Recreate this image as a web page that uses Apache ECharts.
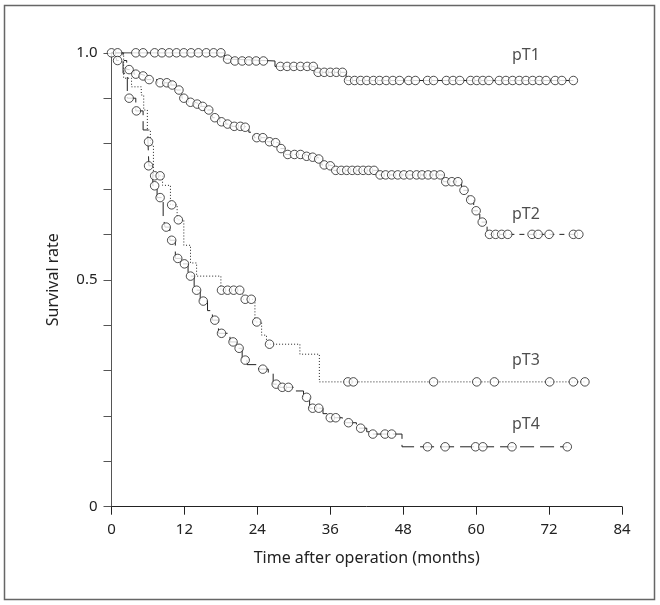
<!DOCTYPE html>
<html><head><meta charset="utf-8">
<script src="https://cdn.jsdelivr.net/npm/echarts@6/dist/echarts.min.js"></script>
<style>html,body{margin:0;padding:0;background:#fff}#c{width:660px;height:605px}</style>
</head><body><div id="c"></div>
<script>
// ---- data (months, survival rate) ----
const xTicks = [0, 12, 24, 36, 48, 60, 72, 84];
const yTickLabels = {"0": "0", "0.5": "0.5", "1": "1.0"};

const pT1Curve = [[0,1],[18.6,0.986],[19.7,0.982],[26.9,0.970],[33.5,0.957],[38.6,0.939],[76.0,0.939]];
const pT1Censored = [[0,1],[1.0,1],[4.0,1],[5.2,1],[7.1,1],[8.3,1],[9.5,1],[10.7,1],[11.9,1],[13.1,1],[14.3,1],[15.6,1],[16.8,1],[18.0,1],
  [19.1,0.986],[20.3,0.982],[21.5,0.982],[22.6,0.982],[23.8,0.982],[25.0,0.982],
  [27.8,0.970],[28.9,0.970],[30.0,0.970],[31.1,0.970],[32.2,0.970],[33.2,0.970],
  [34.0,0.957],[35.0,0.957],[36.0,0.957],[37.0,0.957],[38.0,0.957],
  [39.0,0.939],[40.0,0.939],[41.0,0.939],[42.0,0.939],[43.1,0.939],[44.1,0.939],[45.2,0.939],[46.3,0.939],[47.4,0.939],
  [48.9,0.939],[50.0,0.939],[52.0,0.939],[53.0,0.939],[55.1,0.939],[56.2,0.939],[57.3,0.939],
  [59.1,0.939],[60.1,0.939],[61.1,0.939],[62.1,0.939],[63.8,0.939],[64.9,0.939],[66.0,0.939],[67.1,0.939],
  [68.2,0.939],[69.3,0.939],[70.4,0.939],[71.5,0.939],[73.0,0.939],[74.1,0.939],[76.0,0.939]];

const pT2Curve = [[0,1],[0.8,0.983],[2.5,0.963],[3.7,0.953],[4.8,0.949],[5.8,0.941],[7.5,0.934],[9.8,0.929],[10.7,0.918],
  [11.6,0.900],[12.6,0.891],[13.7,0.887],[14.6,0.882],[15.6,0.874],[16.6,0.857],[17.8,0.848],[18.8,0.843],[19.8,0.838],
  [21.8,0.836],[22.6,0.825],[23.5,0.813],[25.6,0.804],[26.6,0.802],[27.5,0.789],[28.6,0.776],[31.8,0.772],[32.8,0.770],
  [33.8,0.766],[34.6,0.753],[35.6,0.751],[36.5,0.741],[43.8,0.731],[54.6,0.716],[57.6,0.697],[58.7,0.676],[59.6,0.652],
  [60.6,0.627],[61.8,0.600],[76.9,0.600]];
const pT2Censored = [[1.0,0.983],[2.9,0.963],[4.0,0.953],[5.2,0.949],[6.2,0.941],[8.0,0.934],[9.1,0.934],[10.0,0.929],[11.1,0.918],
  [11.9,0.900],[13.0,0.891],[14.1,0.887],[15.0,0.882],[16.0,0.874],[17.0,0.857],[18.1,0.848],[19.1,0.843],[20.2,0.838],
  [21.2,0.838],[22.0,0.836],[23.9,0.813],[24.9,0.813],[26.0,0.804],[27.0,0.802],[27.9,0.789],[29.0,0.776],[30.1,0.776],
  [31.1,0.776],[32.1,0.772],[33.1,0.770],[34.1,0.766],[35.0,0.753],[36.0,0.751],[36.9,0.741],[37.8,0.741],[38.7,0.741],
  [39.6,0.741],[40.5,0.741],[41.4,0.741],[42.3,0.741],[43.2,0.741],
  [44.2,0.731],[45.1,0.731],[46.1,0.731],[47.1,0.731],[48.1,0.731],[49.1,0.731],[50.2,0.731],[51.1,0.731],[52.1,0.731],[53.1,0.731],[54.1,0.731],
  [55.0,0.716],[56.0,0.716],[57.0,0.716],[58.0,0.697],[59.1,0.676],[60.0,0.652],[61.0,0.627],
  [62.2,0.600],[63.2,0.600],[64.2,0.600],[65.2,0.600],[69.2,0.600],[70.2,0.600],[72.0,0.600],[76.0,0.600],[76.9,0.600]];

const pT3Curve = [[0,1],[2.0,0.944],[3.3,0.925],[4.9,0.907],[5.3,0.874],[5.9,0.830],[6.4,0.797],[6.9,0.729],[8.4,0.708],
  [9.7,0.665],[10.8,0.632],[11.9,0.576],[13.0,0.537],[14.0,0.508],[18.0,0.477],[21.6,0.457],[23.6,0.407],[24.7,0.378],
  [25.5,0.358],[31.0,0.336],[34.2,0.275],[77.9,0.275]];
const pT3Censored = [[7.1,0.729],[8.0,0.729],[9.9,0.665],[11.0,0.632],[18.1,0.477],[19.1,0.477],[20.1,0.477],[21.1,0.477],
  [22.0,0.457],[23.0,0.457],[23.9,0.407],[26.0,0.358],[38.9,0.275],[39.8,0.275],[53.0,0.275],[60.1,0.275],[63.0,0.275],
  [72.1,0.275],[76.0,0.275],[77.9,0.275]];

const pT4Curve = [[0,1],[1.9,0.955],[2.6,0.900],[4.0,0.872],[5.2,0.830],[6.0,0.804],[6.15,0.751],[6.8,0.707],[7.5,0.681],
  [8.5,0.640],[8.8,0.616],[9.6,0.587],[10.5,0.547],[11.5,0.535],[12.6,0.508],[13.6,0.477],[14.6,0.453],[15.8,0.432],
  [16.6,0.411],[17.6,0.382],[19.5,0.363],[20.6,0.349],[21.5,0.323],[22.3,0.313],[24.2,0.303],[25.8,0.295],[26.6,0.270],
  [27.6,0.263],[30.0,0.255],[31.6,0.241],[32.6,0.217],[34.8,0.205],[35.5,0.196],[38.0,0.190],[38.5,0.185],[40.3,0.173],
  [42.0,0.165],[42.5,0.160],[47.8,0.132],[75.0,0.132]];
const pT4Censored = [[2.9,0.900],[4.1,0.872],[6.1,0.804],[6.1,0.751],[7.1,0.707],[8.0,0.681],[9.0,0.616],[9.9,0.587],
  [10.9,0.547],[12.0,0.535],[13.0,0.508],[14.0,0.477],[15.1,0.453],[17.0,0.411],[18.1,0.382],[20.0,0.363],[21.0,0.349],
  [22.0,0.323],[24.9,0.303],[27.1,0.270],[28.1,0.263],[29.1,0.263],[32.1,0.241],[33.1,0.217],[34.1,0.217],[36.0,0.196],
  [36.9,0.196],[39.0,0.185],[41.0,0.173],[43.0,0.160],[45.0,0.160],[46.1,0.160],[52.0,0.132],[54.9,0.132],[59.9,0.132],
  [61.1,0.132],[65.9,0.132],[75.0,0.132]];

const groupNames = ["pT1", "pT2", "pT3", "pT4"];
const groupLabelPos = [[68.2, 0.995], [68.2, 0.643], [68.2, 0.323], [68.2, 0.182]];

// ---- chart ----
const FONT = "Noto Sans";
const INK = "#222";
const curves = [pT1Curve, pT2Curve, pT3Curve, pT4Curve];
const censored = [pT1Censored, pT2Censored, pT3Censored, pT4Censored];
const dashes = ["solid", [5, 5], [1, 2], [14, 6]];

const series = [];
curves.forEach((c, i) => {
  series.push({
    type: "line", data: c, step: "end", showSymbol: false, silent: true, z: 2,
    lineStyle: {color: INK, width: 1, type: dashes[i]}
  });
});
censored.forEach((c, i) => {
  series.push({
    type: "scatter", data: c, symbol: "circle", symbolSize: 8.5, silent: true, z: 3,
    itemStyle: {color: "#fff", borderColor: INK, borderWidth: 1}
  });
});
series.push({
  type: "scatter", symbolSize: 0, silent: true, z: 4,
  data: groupLabelPos.map((p, i) => ({value: p, name: groupNames[i]})),
  label: {show: true, position: "inside", formatter: "{b}", color: INK, fontFamily: FONT, fontSize: 16}
});

const chart = echarts.init(document.getElementById("c"), null, {renderer: "canvas"});
chart.setOption({
  animation: false,
  backgroundColor: "#fff",
  grid: {left: 111.5, right: 38, top: 52.8, bottom: 98.3, containLabel: false},
  xAxis: {
    type: "value", min: 0, max: 84, interval: 12,
    name: "Time after operation (months)", nameLocation: "middle", nameGap: 44,
    nameTextStyle: {color: INK, fontFamily: FONT, fontSize: 16},
    axisLine: {show: true, onZero: false, lineStyle: {color: INK, width: 1}},
    axisTick: {show: true, inside: false, length: 8, lineStyle: {color: INK}},
    axisLabel: {color: INK, fontFamily: FONT, fontSize: 15, margin: 16,
      formatter: v => xTicks.includes(v) ? String(v) : ""},
    splitLine: {show: false}
  },
  yAxis: {
    type: "value", min: 0, max: 1, interval: 0.1,
    name: "Survival rate", nameLocation: "middle", nameGap: 50,
    nameTextStyle: {color: INK, fontFamily: FONT, fontSize: 16},
    axisLine: {show: true, onZero: false, lineStyle: {color: "#555", width: 1}},
    axisTick: {show: true, inside: false, length: 8, lineStyle: {color: "#555"}},
    axisLabel: {color: INK, fontFamily: FONT, fontSize: 15, margin: 14,
      formatter: v => { const k = String(Math.round(v * 10) / 10); return yTickLabels[k] !== undefined ? yTickLabels[k] : ""; }},
    splitLine: {show: false}
  },
  graphic: [{
    type: "rect", shape: {x: 4.5, y: 5.5, width: 650, height: 594}, silent: true,
    style: {fill: "none", stroke: "#666", lineWidth: 1.5}
  }],
  series: series
});
</script></body></html>
